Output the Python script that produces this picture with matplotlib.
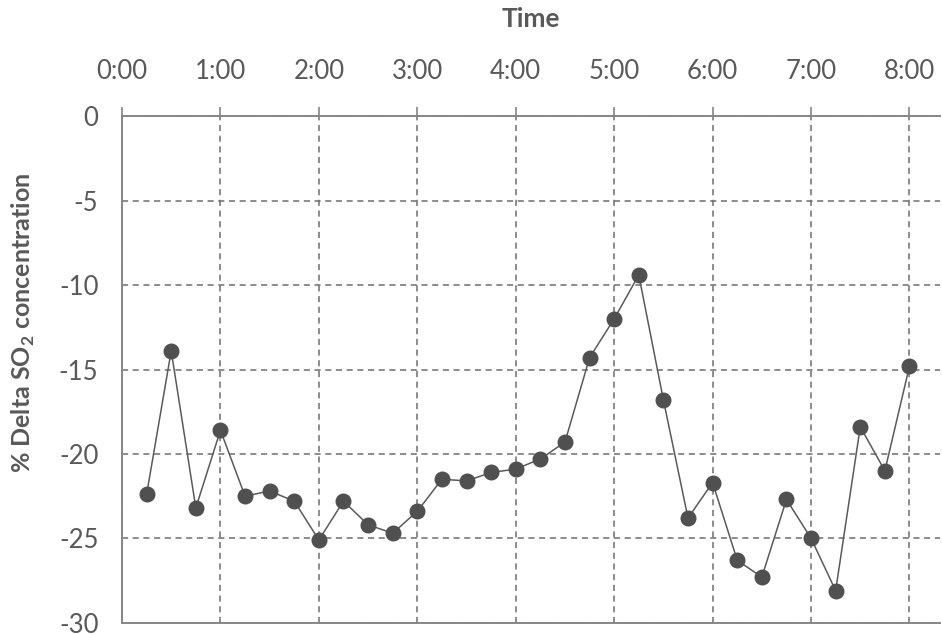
import matplotlib

matplotlib.use("Agg")
import matplotlib.pyplot as plt

# sample times (h:mm) and % delta SO2 readings
times = ["0:15", "0:30", "0:45", "1:00", "1:15", "1:30", "1:45", "2:00",
         "2:15", "2:30", "2:45", "3:00", "3:15", "3:30", "3:45", "4:00",
         "4:15", "4:30", "4:45", "5:00", "5:15", "5:30", "5:45", "6:00",
         "6:15", "6:30", "6:45", "7:00", "7:15", "7:30", "7:45", "8:00"]
delta_so2 = [-22.4, -13.9, -23.2, -18.6, -22.5, -22.2, -22.8, -25.1,
             -22.8, -24.2, -24.7, -23.4, -21.5, -21.6, -21.1, -20.9,
             -20.3, -19.3, -14.3, -12.0, -9.4, -16.8, -23.8, -21.7,
             -26.3, -27.3, -22.7, -25.0, -28.1, -18.4, -21.0, -14.8]
hour_ticks = [0, 1, 2, 3, 4, 5, 6, 7, 8]
hour_labels = ["0:00", "1:00", "2:00", "3:00", "4:00", "5:00", "6:00", "7:00", "8:00"]
y_ticks = [0, -5, -10, -15, -20, -25, -30]


def to_hours(s):
    h, m = s.split(":")
    return int(h) + int(m) / 60.0


plt.rcParams["font.family"] = ["Lato", "DejaVu Sans"]
plt.rcParams["mathtext.fontset"] = "custom"
plt.rcParams["mathtext.rm"] = "Lato"
plt.rcParams["mathtext.bf"] = "Lato:bold"
plt.rcParams["axes.unicode_minus"] = False

txt = "#595959"
axis_c = "#868686"

fig = plt.figure(figsize=(9.42, 6.35), dpi=100)
ax = fig.add_axes([122 / 942, 1 - 622.7 / 635, (940 - 122) / 942, (622.7 - 116.3) / 635])

x = [to_hours(t) for t in times]
ax.plot(x, delta_so2, "-", color="#5a5a5a", lw=1.1, zorder=3)
ax.plot(x, delta_so2, "o", color="#505050", ms=10.5, mec="#505050", zorder=4)

ax.set_xlim(0, 8.31)
ax.set_ylim(-30, 0)
ax.xaxis.tick_top()
ax.xaxis.set_label_position("top")
ax.set_xticks(hour_ticks)
ax.set_xticklabels(hour_labels)
ax.set_yticks(y_ticks)
ax.tick_params(axis="x", colors=axis_c, labelcolor=txt, labelsize=18.5,
               length=6.5, width=1.2, direction="out", pad=16.5)
ax.tick_params(axis="y", length=0, labelcolor=txt, labelsize=18.5, pad=17)

ax.grid(True, ls=(0, (4, 3)), color="#6e6e6e", lw=1.1)
ax.set_axisbelow(True)
ax.spines["right"].set_visible(False)
for side in ["top", "left", "bottom"]:
    ax.spines[side].set_color(axis_c)
    ax.spines[side].set_linewidth(1.4)

ax.set_xlabel("Time", fontsize=19, fontweight="bold", color=txt, labelpad=23)
ax.set_ylabel(r"% Delta SO$_\mathbf{2}$ concentration", fontsize=18,
              fontweight="bold", color=txt)
ax.yaxis.set_label_coords(-0.104, 0.592)

fig.savefig("out.png", dpi=100)
